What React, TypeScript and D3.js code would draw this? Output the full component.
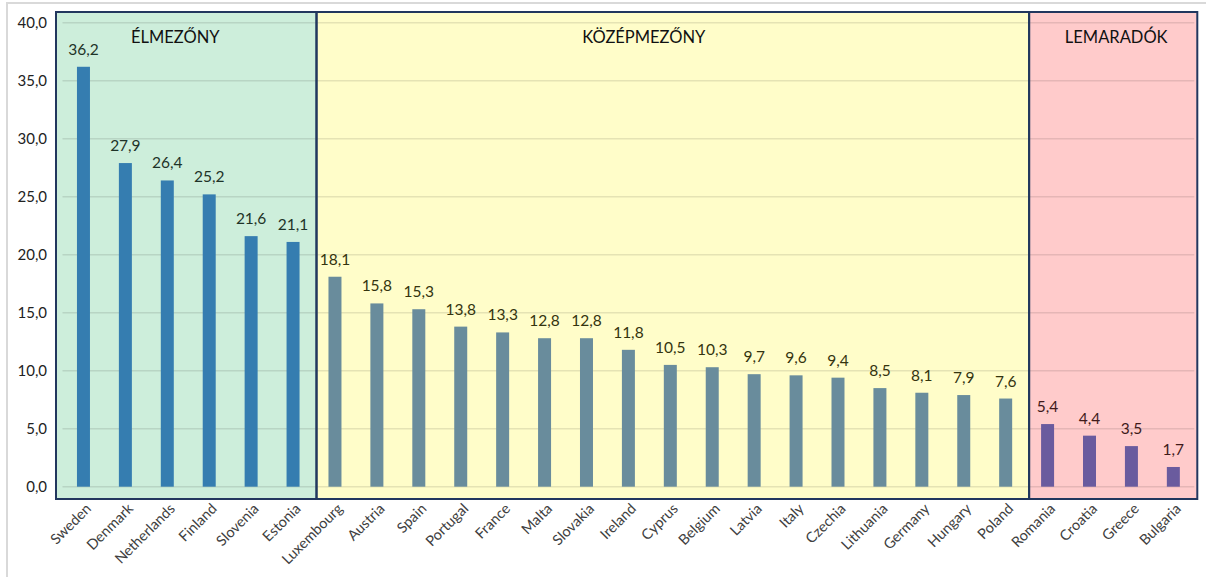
import React from "react";
import * as d3 from "d3";

const countries = ["Sweden","Denmark","Netherlands","Finland","Slovenia","Estonia","Luxembourg","Austria","Spain","Portugal","France","Malta","Slovakia","Ireland","Cyprus","Belgium","Latvia","Italy","Czechia","Lithuania","Germany","Hungary","Poland","Romania","Croatia","Greece","Bulgaria"];
const values = [36.2,27.9,26.4,25.2,21.6,21.1,18.1,15.8,15.3,13.8,13.3,12.8,12.8,11.8,10.5,10.3,9.7,9.6,9.4,8.5,8.1,7.9,7.6,5.4,4.4,3.5,1.7];
const groupNames = ["ÉLMEZŐNY","KÖZÉPMEZŐNY","LEMARADÓK"];
const groupSizes = [6,17,4];
const yTicks = [0,5,10,15,20,25,30,35,40];

const groupStyle = [
  { bg: "#cdeedb", bar: "#357db0", label: "#1e3328", titleDx: -11 },
  { bg: "#fffdc9", bar: "#698c9c", label: "#34340f", titleDx: -29 },
  { bg: "#ffcbcb", bar: "#6a5b9e", label: "#401a1a", titleDx: 3 },
];

const W = 1206, H = 577;
const FONT = "Lato, 'Open Sans', sans-serif";

export default function App() {
  if (typeof document !== "undefined") document.body.style.margin = "0";
  const x = d3.scaleBand<string>().domain(countries).range([62.5, 1194.3]).paddingInner(0.69).paddingOuter(0.345);
  const y = d3.scaleLinear().domain([0, 40]).range([486.7, 22.7]);
  const fmt = (v: number) => v.toFixed(1).replace(".", ",");

  const starts: number[] = [];
  let acc = 0;
  groupSizes.forEach((s) => { starts.push(acc); acc += s; });
  const groupOf = (i: number) => { let g = 0; for (let k = 0; k < starts.length; k++) if (i >= starts[k]) g = k; return g; };
  const step = x.step();
  const bandCenter = (i: number) => (x(countries[i]) as number) + x.bandwidth() / 2;
  const panelTop = y(40) - 10.7;
  const panelBottom = y(0) + 12.3;
  const panels = groupSizes.map((s, g) => {
    const first = starts[g], last = starts[g] + s - 1;
    let left = bandCenter(first) - step / 2;
    let right = bandCenter(last) + step / 2;
    if (g === 0) left -= 6.5;
    if (g === groupSizes.length - 1) right += 3;
    if (g > 0) left += 2.5;
    if (g < groupSizes.length - 1) right += 2.5;
    return { left, right };
  });

  return (
    <svg width={W} height={H} style={{ display: "block", background: "#fff" }} fontFamily={FONT}>
      <rect x={7} y={3} width={W + 20} height={H + 20} fill="#fff" stroke="#d9d9d9" strokeWidth={2} />
      {panels.map((p, g) => (
        <rect key={"p" + g} x={p.left} y={panelTop} width={p.right - p.left} height={panelBottom - panelTop} fill={groupStyle[g].bg} />
      ))}
      {yTicks.map((t) => (
        <line key={"g" + t} x1={x.range()[0]} x2={x.range()[1]} y1={y(t)} y2={y(t)} stroke="rgba(0,0,0,0.1)" strokeWidth={1.5} />
      ))}
      {countries.map((c, i) => {
        const g = groupOf(i);
        return (
          <rect key={"b" + c} x={x(c)} y={y(values[i])} width={x.bandwidth()} height={y(0) - y(values[i])} fill={groupStyle[g].bar} />
        );
      })}
      {countries.map((c, i) => {
        const g = groupOf(i);
        return (
          <text key={"l" + c} x={bandCenter(i)} y={y(values[i]) - 12} textAnchor="middle" fontSize={15.5} fill={groupStyle[g].label}>{fmt(values[i])}</text>
        );
      })}
      {panels.map((p, g) => (
        <rect key={"pb" + g} x={p.left} y={panelTop} width={p.right - p.left} height={panelBottom - panelTop} fill="none" stroke="#22375e" strokeWidth={2} />
      ))}
      {panels.map((p, g) => (
        <text key={"t" + g} x={(p.left + p.right) / 2 + groupStyle[g].titleDx} y={43.3} textAnchor="middle" fontSize={16.5} fill="#111">{groupNames[g]}</text>
      ))}
      {yTicks.map((t) => (
        <text key={"yt" + t} x={47} y={y(t)} dy="0.35em" textAnchor="end" fontSize={15} fill="#222">{fmt(t)}</text>
      ))}
      {countries.map((c, i) => (
        <text key={"x" + c} transform={`translate(${bandCenter(i) + 5},${panelBottom + 7}) rotate(-45)`} textAnchor="end" fontSize={14.5} fill="#404040" dy="0.35em">{c}</text>
      ))}
    </svg>
  );
}
